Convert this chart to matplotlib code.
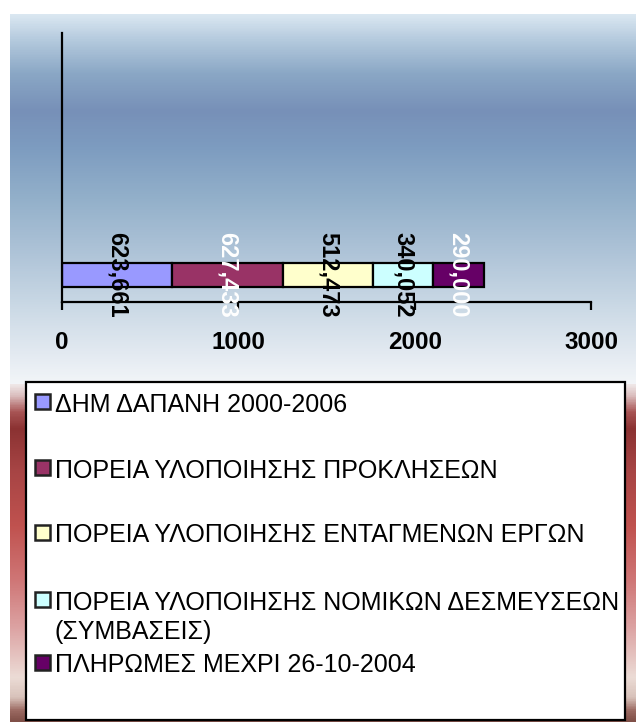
import numpy as np
import matplotlib
matplotlib.use('Agg')
import matplotlib.pyplot as plt
from matplotlib.colors import LinearSegmentedColormap
from matplotlib.patches import Rectangle

plt.rcParams['font.family'] = ['Liberation Sans', 'DejaVu Sans']

# data
series = ['ΔΗΜ ΔΑΠΑΝΗ 2000-2006',
          'ΠΟΡΕΙΑ ΥΛΟΠΟΙΗΣΗΣ ΠΡΟΚΛΗΣΕΩΝ',
          'ΠΟΡΕΙΑ ΥΛΟΠΟΙΗΣΗΣ ΕΝΤΑΓΜΕΝΩΝ ΕΡΓΩΝ',
          'ΠΟΡΕΙΑ ΥΛΟΠΟΙΗΣΗΣ ΝΟΜΙΚΩΝ ΔΕΣΜΕΥΣΕΩΝ\n(ΣΥΜΒΑΣΕΙΣ)',
          'ΠΛΗΡΩΜΕΣ ΜΕΧΡΙ 26-10-2004']
values = [623.661, 627.433, 512.473, 340.052, 290.000]
x_ticks = [0, 1000, 2000, 3000]

colors = ['#9999ff', '#993366', '#ffffcc', '#ccffff', '#660066']
label_colors = ['black', 'white', 'black', 'black', 'white']

W, H = 636, 722
fig = plt.figure(figsize=(W / 100, H / 100), dpi=100)
fig.patch.set_facecolor('white')


def box(x0, y0, x1, y1):
    # pixel box (top-left origin) -> figure rect
    return [x0 / W, 1 - y1 / H, (x1 - x0) / W, (y1 - y0) / H]


def gradient(ax, stops):
    cmap = LinearSegmentedColormap.from_list('g', stops)
    ax.imshow(np.linspace(0, 1, 400).reshape(-1, 1), cmap=cmap, aspect='auto',
              extent=[0, 1, 1, 0])
    ax.set_axis_off()


# blue chart-area background
bg_top = fig.add_axes(box(10, 14, 636, 384))
gradient(bg_top, [(0.0, '#dae7f1'), (0.07, '#b3c9dd'), (0.16, '#8aa7c5'),
                  (0.26, '#7790b8'), (0.36, '#7d9cc0'), (0.5, '#93b0ca'),
                  (0.65, '#afc4d8'), (0.8, '#ccdae6'), (0.92, '#e3eaf1'),
                  (1.0, '#f2f5f8')])

# red slide background under legend
bg_bot = fig.add_axes(box(10, 384, 636, 722))
gradient(bg_bot, [(0.0, '#eee6e6'), (0.03, '#dcc0c0'), (0.08, '#a85454'),
                  (0.13, '#8b3232'), (0.25, '#a64444'), (0.42, '#c0524f'),
                  (0.58, '#cf7676'), (0.72, '#dca2a2'), (0.87, '#ecdcd6'),
                  (0.93, '#d8c2ba'), (0.97, '#9a6860'), (1.0, '#805048')])

# chart
ax = fig.add_axes(box(62, 33, 591, 302))
ax.patch.set_alpha(0)
left = 0
for v, c, lc in zip(values, colors, label_colors):
    ax.barh(0, v, left=left, height=1.0, color=c, edgecolor='black', linewidth=1.6)
    ax.text(left + v / 2, 0, f'{v:.3f}'.replace('.', ','), rotation=270,
            ha='center', va='center', fontsize=17, fontweight='bold', color=lc)
    left += v

ax.set_xlim(0, 3000)
ax.set_ylim(-1.125, 10.08)
ax.set_xticks(x_ticks)
ax.set_xticklabels([str(t) for t in x_ticks], fontsize=17.5, fontweight='bold')
ax.set_yticks([])
ax.tick_params(axis='x', direction='out', length=6, width=1.6, pad=15)
for s in ['top', 'right']:
    ax.spines[s].set_visible(False)
for s in ['left', 'bottom']:
    ax.spines[s].set_linewidth(1.6)

# legend box
lg = fig.add_axes([0, 0, 1, 1])
lg.set_xlim(0, W)
lg.set_ylim(H, 0)
lg.set_axis_off()
lg.add_patch(Rectangle((26, 382), 599, 338, facecolor='white', edgecolor='black', linewidth=1.6))
row_y = [402, 468, 533, 600, 663]
for name, c, y in zip(series, colors, row_y):
    lg.add_patch(Rectangle((35, y - 8), 15, 15, facecolor=c, edgecolor='#222222', linewidth=1.8))
    for i, line in enumerate(name.split('\n')):
        lg.text(55, y + i * 29, line, ha='left', va='center_baseline', fontsize=18, color='black')

fig.savefig('out.png', dpi=100)
